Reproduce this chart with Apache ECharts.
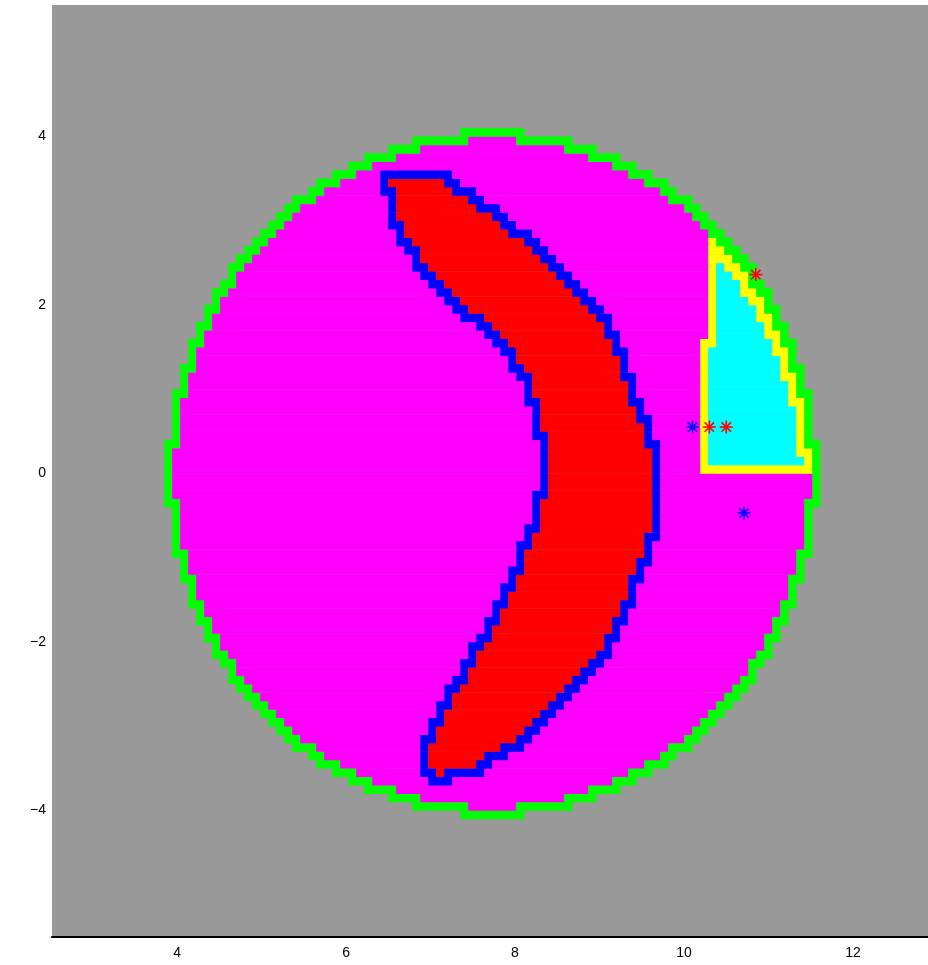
<!DOCTYPE html>
<html><head><meta charset="utf-8">
<script src="https://cdn.jsdelivr.net/npm/echarts@6/dist/echarts.min.js"></script>
<style>html,body{margin:0;padding:0;background:#fff}#c{width:928px;height:965px}</style>
</head><body><div id="c"></div>
<script>
// ---- data ----
const xTickLabels = [4, 6, 8, 10, 12];
const yTickLabels = [-4, -2, 0, 2, 4];
const cellWidth = 0.0947, cellHeight = 0.1;
const gridOrigin = [7.73, 0];            // a cell corner
const diskCenter = [7.73, 0];
const diskRadii = [3.855, 4.07];
// outline of the crescent (outer edge of its blue border)
const crescentOutline = [
  [6.427,3.6],[7.189,3.6],[7.437,3.4],[7.628,3.25],[7.809,3.15],[7.913,3.04],[8.028,2.92],[8.218,2.83],
  [8.323,2.71],[8.437,2.62],[8.533,2.5],[8.657,2.38],[8.752,2.27],[8.857,2.15],[8.952,2.06],[9.047,1.94],
  [9.133,1.82],[9.285,1.5],[9.4,1.15],[9.571,0.7],[9.714,0.3],[9.762,0],[9.762,-0.5],[9.667,-0.85],
  [9.524,-1.2],[9.381,-1.6],[9.19,-2.0],[9.019,-2.33],[8.895,-2.43],[8.799,-2.55],[8.685,-2.67],[8.58,-2.77],
  [8.456,-2.89],[8.342,-2.99],[8.218,-3.08],[8.133,-3.19],[8.037,-3.31],[7.828,-3.4],[7.72,-3.5],
  [7.62,-3.6],[7.27,-3.61],[7.27,-3.72],[6.98,-3.72],[6.88,-3.58],[6.856,-3.32],[6.98,-2.99],[7.084,-2.77],
  [7.18,-2.55],[7.304,-2.43],[7.389,-2.22],[7.57,-1.9],[7.713,-1.6],[7.856,-1.3],[7.999,-1.0],[8.142,-0.6],
  [8.237,-0.3],[8.285,0],[8.285,0.3],[8.19,0.7],[8.047,1.1],[7.856,1.4],[7.666,1.65],[7.418,1.82],[7.304,1.94],
  [7.208,2.04],[7.084,2.15],[6.98,2.26],[6.884,2.38],[6.789,2.5],[6.675,2.62],[6.57,2.83],[6.475,3.05]
];
// outline of the cyan wedge (clipped by the disk)
const wedgeOutline = [[10.15,0],[10.15,1.6],[10.25,1.6],[10.25,2.8],[12.5,2.8],[12.5,0]];
const blueStars = [[10.1,0.55],[10.71,-0.47]];
const redStars = [[10.3,0.55],[10.5,0.55],[10.85,2.36]];
const classColors = ['#ff00ff','#00ff00','#ff0000','#0000ff','#00ffff','#ffff00'];
const backgroundColor = '#999999';

// ---- rasterise the shapes on the cell grid ----
function inPoly(pt, poly){
  let c=false;
  for(let i=0,j=poly.length-1;i<poly.length;j=i++){
    const xi=poly[i][0],yi=poly[i][1],xj=poly[j][0],yj=poly[j][1];
    if(((yi>pt[1])!==(yj>pt[1])) && (pt[0] < (xj-xi)*(pt[1]-yi)/(yj-yi)+xi)) c=!c;
  }
  return c;
}
const nx=Math.ceil(diskRadii[0]/cellWidth)+3, ny=Math.ceil(diskRadii[1]/cellHeight)+3;
const W=2*nx, H=2*ny;
const ex=i=>gridOrigin[0]+(i-nx)*cellWidth, ey=j=>gridOrigin[1]+(j-ny)*cellHeight;
const cx=i=>ex(i)+cellWidth/2, cy=j=>ey(j)+cellHeight/2;
function mask(fn){const m=[];for(let j=0;j<H;j++){m[j]=[];for(let i=0;i<W;i++)m[j][i]=fn(i,j);}return m;}
function edge(m){return mask((i,j)=>{if(!m[j][i])return false;for(let dj=-1;dj<=1;dj++)for(let di=-1;di<=1;di++){const a=i+di,b=j+dj;if(a<0||b<0||a>=W||b>=H||!m[b][a])return true;}return false;});}
const disk=mask((i,j)=>{const u=(cx(i)-diskCenter[0])/diskRadii[0],v=(cy(j)-diskCenter[1])/diskRadii[1];return u*u+v*v<=1;});
const ring=edge(disk);
const cres=mask((i,j)=>disk[j][i]&&!ring[j][i]&&inPoly([cx(i),cy(j)],crescentOutline));
const cresEdge=edge(cres);
const wedge=mask((i,j)=>disk[j][i]&&!ring[j][i]&&inPoly([cx(i),cy(j)],wedgeOutline));
const wedgeEdge=edge(wedge);
const runs=[];
for(let j=0;j<H;j++){
  let cur=-1,start=0;
  for(let i=0;i<=W;i++){
    let k=-1;
    if(i<W&&disk[j][i]){
      k=ring[j][i]?1:cresEdge[j][i]?3:cres[j][i]?2:wedgeEdge[j][i]?5:wedge[j][i]?4:0;
    }
    if(k!==cur){
      if(cur>=0)runs.push([ex(start),ex(i),cy(j),cur]);
      cur=k;start=i;
    }
  }
}

const chart=echarts.init(document.getElementById('c'),null,{renderer:'canvas'});
function starItem(color){
  return function(params,api){
    const p=api.coord([api.value(0),api.value(1)]);
    const r=6.5,d=r*0.72;
    const segs=[[-r,0,r,0],[0,-r,0,r],[-d,-d,d,d],[-d,d,d,-d]];
    return {type:'group',children:segs.map(s=>({type:'line',shape:{x1:p[0]+s[0],y1:p[1]+s[1],x2:p[0]+s[2],y2:p[1]+s[3]},style:{stroke:color,lineWidth:1.6}}))};
  };
}
const axisFont={color:'#000',fontSize:14,fontFamily:'Liberation Sans, Arial, sans-serif'};
chart.setOption({
  animation:false,
  backgroundColor:'#ffffff',
  grid:{left:52,right:0,top:5,bottom:28.3,show:true,backgroundColor:backgroundColor,borderWidth:0},
  xAxis:{type:'value',min:2.52,max:12.888,
    axisLine:{show:true,onZero:false,lineStyle:{color:'#000',width:2}},
    axisTick:{show:false},splitLine:{show:false},
    axisLabel:Object.assign({margin:9,customValues:xTickLabels,formatter:v=>xTickLabels.includes(v)?String(v):''},axisFont)},
  yAxis:{type:'value',min:-5.5,max:5.56,
    axisLine:{show:false},axisTick:{show:false},splitLine:{show:false},
    axisLabel:Object.assign({margin:6,customValues:yTickLabels,formatter:v=>yTickLabels.includes(v)?String(v).replace('-','\u2212'):''},axisFont)},
  series:[
    {type:'custom',data:runs,silent:true,
     renderItem:function(params,api){
       const a=api.coord([api.value(0),api.value(2)+cellHeight/2]);
       const b=api.coord([api.value(1),api.value(2)-cellHeight/2]);
       return {type:'rect',shape:{x:a[0],y:a[1],width:b[0]-a[0]+0.4,height:b[1]-a[1]+0.4},style:{fill:classColors[api.value(3)]}};
     }},
    {type:'custom',data:blueStars,silent:true,renderItem:starItem('#0000ff'),z:5},
    {type:'custom',data:redStars,silent:true,renderItem:starItem('#ff0000'),z:5}
  ]
});
</script></body></html>
